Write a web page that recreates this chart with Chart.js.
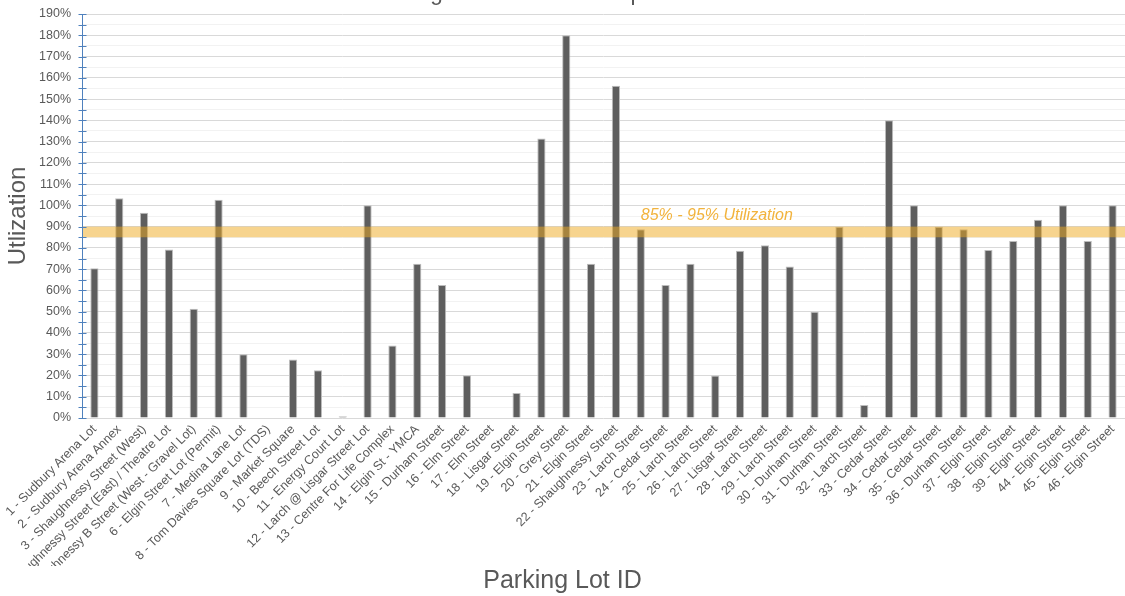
<!DOCTYPE html>
<html>
<head>
<meta charset="utf-8">
<script src="https://cdn.jsdelivr.net/npm/chart.js@4/dist/chart.umd.min.js"></script>
<style>
  html, body { margin: 0; padding: 0; background: #ffffff; }
  #wrap { width: 1125px; height: 596px; position: relative; }
</style>
</head>
<body>
<div id="wrap"><canvas id="c"></canvas></div>
<script>
const categories = [
  "1 - Sudbury Arena Lot",
  "2 - Sudbury Arena Annex",
  "3 - Shaughnessy Street (West)",
  "4 - Shaughnessy Street (East) / Theatre Lot",
  "5 - Shaughnessy B Street (West - Gravel Lot)",
  "6 - Elgin Street Lot (Permit)",
  "7 - Medina Lane Lot",
  "8 - Tom Davies Square Lot (TDS)",
  "9 - Market Square",
  "10 - Beech Street Lot",
  "11 - Energy Court Lot",
  "12 - Larch @ Lisgar Street Lot",
  "13 - Centre For Life Complex",
  "14 - Elgin St - YMCA",
  "15 - Durham Street",
  "16 - Elm Street",
  "17 - Elm Street",
  "18 - Lisgar Street",
  "19 - Elgin Street",
  "20 - Grey Street",
  "21 - Elgin Street",
  "22 - Shaughnessy Street",
  "23 - Larch Street",
  "24 - Cedar Street",
  "25 - Larch Street",
  "26 - Larch Street",
  "27 - Lisgar Street",
  "28 - Larch Street",
  "29 - Larch Street",
  "30 - Durham Street",
  "31 - Durham Street",
  "32 - Larch Street",
  "33 - Cedar Street",
  "34 - Cedar Street",
  "35 - Cedar Street",
  "36 - Durham Street",
  "37 - Elgin Street",
  "38 - Elgin Street",
  "39 - Elgin Street",
  "44 - Elgin Street",
  "45 - Elgin Street",
  "46 - Elgin Street"
];
const utilization = [
  70.4, 103.3, 96.5, 79.2, 51.4, 102.6, 30, 0, 27.5, 22.5,
  0.8, 100, 34.1, 72.6, 62.6, 20.1, 0, 11.8, 131.5, 180,
  72.6, 156.2, 88.8, 62.6, 72.6, 20, 78.6, 81.2, 71.3, 50,
  90, 6.1, 140, 100, 90, 88.8, 79, 83.3, 93.2, 100,
  83.3, 100
];
const bandRange = [85, 90];
const bandLabel = "85% - 95% Utilization";
const bandLabelAnchor = { index: 22, value: 93 };
const chartTitle = "Parking Lot Utilization Snapshot";
const yAxisTitle = "Utlization";
const xAxisTitle = "Parking Lot ID";
const yMin = 0, yMax = 190, yStep = 5, yLabelEvery = 10;

const FONT = "'Liberation Sans', Arial, sans-serif";
const TEXT = '#595959';

const bandPlugin = {
  id: 'band',
  afterDatasetsDraw(chart) {
    const { ctx, chartArea, scales } = chart;
    const y = scales.y, x = scales.x;
    const yTop = y.getPixelForValue(bandRange[1]);
    const yBot = y.getPixelForValue(bandRange[0]);
    ctx.save();
    ctx.fillStyle = 'rgba(240,170,30,0.5)';
    ctx.fillRect(chartArea.left + 1, yTop, chartArea.right - chartArea.left - 1, yBot - yTop);
    ctx.font = 'italic 16px ' + FONT;
    ctx.fillStyle = '#f2b33d';
    ctx.textAlign = 'left';
    ctx.textBaseline = 'alphabetic';
    ctx.fillText(bandLabel, x.getPixelForValue(bandLabelAnchor.index), y.getPixelForValue(bandLabelAnchor.value));
    ctx.restore();
  }
};

const crossTicks = {
  id: 'crossTicks',
  afterDraw(chart) {
    const { ctx, chartArea, scales } = chart;
    const y = scales.y;
    ctx.save();
    ctx.strokeStyle = '#4f81bd';
    ctx.lineWidth = 1;
    ctx.beginPath();
    const ax = Math.round(chartArea.left) + 0.5;
    ctx.moveTo(ax, y.getPixelForValue(yMax));
    ctx.lineTo(ax, y.getPixelForValue(yMin));
    y.ticks.forEach(t => {
      const py = Math.round(y.getPixelForValue(t.value)) + 0.5;
      ctx.moveTo(ax - 4, py);
      ctx.lineTo(ax + 4, py);
    });
    ctx.stroke();
    ctx.restore();
  }
};

const topTitle = {
  id: 'topTitle',
  afterDraw(chart) {
    const { ctx } = chart;
    ctx.save();
    ctx.font = '22.5px ' + FONT;
    ctx.fillStyle = TEXT;
    ctx.textAlign = 'center';
    ctx.textBaseline = 'alphabetic';
    ctx.fillText(chartTitle, 526, 0);
    ctx.restore();
  }
};

Chart.defaults.font.family = FONT;
Chart.defaults.color = TEXT;

new Chart(document.getElementById('c'), {
  type: 'bar',
  data: {
    labels: categories,
    datasets: [{
      data: utilization,
      backgroundColor: '#5e5e5e',
      borderColor: '#bdbdbd',
      borderWidth: { top: 1, left: 1, right: 1, bottom: 0 },
      barPercentage: 0.33,
      categoryPercentage: 1.0
    }]
  },
  options: {
    responsive: true,
    maintainAspectRatio: false,
    animation: false,
    layout: { padding: { top: 14, left: 0, right: 0, bottom: 0 } },
    plugins: {
      legend: { display: false },
      tooltip: { enabled: false },
      title: {
        display: true,
        position: 'bottom',
        text: xAxisTitle,
        color: TEXT,
        font: { size: 25, weight: 'normal', family: FONT },
        padding: { top: 0, bottom: 0 }
      }
    },
    scales: {
      x: {
        grid: { display: false, drawTicks: false },
        border: { display: false },
        ticks: {
          autoSkip: false,
          minRotation: 45,
          maxRotation: 45,
          padding: 4,
          color: TEXT,
          font: { size: 12.5 }
        },
        afterFit(scale) {
          scale.height = 148;
          scale.paddingLeft = 0;
          scale.paddingRight = 0;
        }
      },
      y: {
        min: yMin,
        max: yMax,
        border: { display: false },
        grid: {
          drawTicks: false,
          color: ctx => (ctx.tick && ctx.tick.value % yLabelEvery === 0) ? '#d9d9d9' : '#f2f2f2',
          lineWidth: 1
        },
        ticks: {
          stepSize: yStep,
          autoSkip: false,
          padding: 11,
          color: TEXT,
          font: { size: 12.5 },
          callback: v => (v % yLabelEvery === 0) ? v + '%' : ''
        },
        title: {
          display: true,
          text: yAxisTitle,
          color: TEXT,
          font: { size: 24, family: FONT },
          padding: { top: 4, bottom: 4 }
        },
        afterFit(scale) {
          scale.width = 82;
          scale.paddingTop = 0;
          scale.paddingBottom = 0;
        }
      }
    }
  },
  plugins: [bandPlugin, crossTicks, topTitle]
});
</script>
</body>
</html>
